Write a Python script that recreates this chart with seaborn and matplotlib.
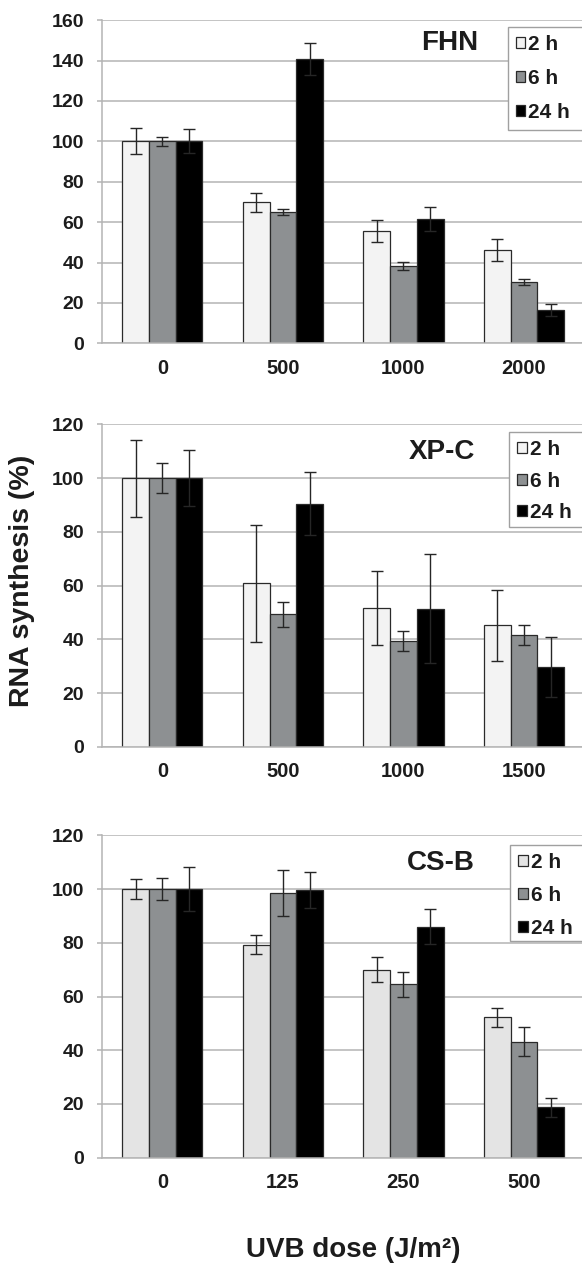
import pandas as pd
import numpy as np
import matplotlib
matplotlib.use("Agg")
import matplotlib.pyplot as plt
from matplotlib.patches import Rectangle
import seaborn as sns

times = ["2 h", "6 h", "24 h"]

fhn_doses = ["0", "500", "1000", "2000"]
fhn_2h = [100, 69.8, 55.5, 46.1]
fhn_6h = [100, 65.0, 38.5, 30.5]
fhn_24h = [100, 140.8, 61.7, 16.4]
fhn_2h_err = [6.5, 4.8, 5.5, 5.3]
fhn_6h_err = [2.3, 1.7, 2.0, 1.4]
fhn_24h_err = [6.0, 7.8, 6.0, 3.0]

xpc_doses = ["0", "500", "1000", "1500"]
xpc_2h = [100, 60.9, 51.7, 45.2]
xpc_6h = [100, 49.3, 39.4, 41.6]
xpc_24h = [100, 90.4, 51.3, 29.8]
xpc_2h_err = [14.3, 21.8, 13.8, 13.2]
xpc_6h_err = [5.7, 4.6, 3.7, 3.6]
xpc_24h_err = [10.3, 11.7, 20.3, 11.2]

csb_doses = ["0", "125", "250", "500"]
csb_2h = [100, 79.3, 70.0, 52.2]
csb_6h = [100, 98.5, 64.5, 43.2]
csb_24h = [100, 99.6, 85.9, 18.7]
csb_2h_err = [3.6, 3.5, 4.7, 3.6]
csb_6h_err = [4.1, 8.6, 4.5, 5.4]
csb_24h_err = [8.2, 6.6, 6.5, 3.6]

sns.set_style("white")
plt.rcParams["font.family"] = ["Liberation Sans", "DejaVu Sans"]
plt.rcParams["font.weight"] = "bold"
txt = "#1c1c1c"
grid_c = "#b4b4b4"

panels = [
    ("FHN", fhn_doses, [fhn_2h, fhn_6h, fhn_24h], [fhn_2h_err, fhn_6h_err, fhn_24h_err], 160, "#f3f3f3"),
    ("XP-C", xpc_doses, [xpc_2h, xpc_6h, xpc_24h], [xpc_2h_err, xpc_6h_err, xpc_24h_err], 120, "#f3f3f3"),
    ("CS-B", csb_doses, [csb_2h, csb_6h, csb_24h], [csb_2h_err, csb_6h_err, csb_24h_err], 120, "#e4e4e4"),
]

# axes boxes in figure fractions (left, bottom, width, height)
boxes = [
    [0.1753, 0.7286, 0.8287, 0.2555],
    [0.1753, 0.4097, 0.8287, 0.2548],
    [0.1753, 0.0848, 0.8287, 0.2549],
]
# legend frame: left, top, bottom in axes fractions (frame runs off the right edge)
legend_box = [(0.841, 0.980, 0.660), (0.844, 0.977, 0.681), (0.846, 0.970, 0.673)]
legend_space = [0.72, 0.6, 0.66]
name_pos = [(0.7215, 0.929), (0.705, 0.915), (0.703, 0.914)]

fig = plt.figure(figsize=(5.82, 12.65), dpi=100)

for i, (name, doses, vals, errs, ymax, light) in enumerate(panels):
    ax = fig.add_axes(boxes[i])
    rows = []
    for t, v in zip(times, vals):
        for d, y in zip(doses, v):
            rows.append({"dose": d, "time": t, "value": y})
    df = pd.DataFrame(rows)
    pal = {"2 h": light, "6 h": "#8d9092", "24 h": "#000000"}
    sns.barplot(data=df, x="dose", y="value", hue="time", order=doses, hue_order=times,
                palette=pal, width=0.665, errorbar=None, edgecolor="#2a2a2a",
                linewidth=0.9, saturation=1, ax=ax, zorder=2)

    for cont, e in zip(ax.containers, errs):
        xs = [p.get_x() + p.get_width() / 2 for p in cont]
        hs = [p.get_height() for p in cont]
        ax.errorbar(xs, hs, yerr=e, fmt="none", ecolor="#262626", elinewidth=1.0,
                    capsize=4.5, capthick=1.0, zorder=3)

    ax.set_xlim(-0.5, 3.5)
    ax.set_ylim(0, ymax)
    ax.set_yticks(np.arange(0, ymax + 1, 20))
    ax.set_axisbelow(True)
    ax.yaxis.grid(True, color=grid_c, linewidth=1.1)
    ax.xaxis.grid(False)
    for s in ["top", "right"]:
        ax.spines[s].set_visible(False)
    ax.spines["left"].set_color(grid_c)
    ax.spines["bottom"].set_color(grid_c)
    ax.spines["left"].set_linewidth(1.1)
    ax.spines["bottom"].set_linewidth(1.1)

    ax.set_xticks(np.arange(-0.5, 4, 1), minor=True)
    ax.tick_params(axis="x", which="major", length=0, pad=11, labelsize=14.5, labelcolor=txt)
    ax.tick_params(axis="x", which="minor", length=5, width=1.1, color=grid_c, direction="out")
    ax.tick_params(axis="y", length=3.5, width=1.1, color=grid_c, pad=9.5, labelsize=14,
                   labelcolor=txt, left=True)
    for lab in ax.get_xticklabels() + ax.get_yticklabels():
        lab.set_fontweight("bold")
    ax.set_xlabel("")
    ax.set_ylabel("")

    ax.text(name_pos[i][0], name_pos[i][1], name, transform=ax.transAxes, ha="center",
            va="center", fontsize=20, fontweight="bold", color=txt)

    lx, ltop, lbot = legend_box[i]
    ax.add_patch(Rectangle((lx, lbot), 0.3, ltop - lbot, transform=ax.transAxes,
                           facecolor="white", edgecolor="#a0a0a0", linewidth=1.0,
                           clip_on=False, zorder=4))
    sns.move_legend(ax, loc="upper left", bbox_to_anchor=(lx, ltop), title=None,
                    frameon=False, fontsize=15, borderaxespad=0,
                    labelspacing=legend_space[i], handlelength=0.45, handleheight=0.45,
                    handletextpad=0.15, borderpad=0.4)
    leg = ax.get_legend()
    leg.set_zorder(5)
    for t in leg.get_texts():
        t.set_fontweight("bold")
        t.set_color(txt)

fig.text(0.038, 0.5407, "RNA synthesis (%)", rotation=90, ha="center", va="center",
         fontsize=20.5, fontweight="bold", color=txt)
fig.text(0.607, 0.006, "UVB dose (J/m²)", ha="center", va="baseline",
         fontsize=20, fontweight="bold", color=txt)

fig.savefig("out.png", dpi=100)
